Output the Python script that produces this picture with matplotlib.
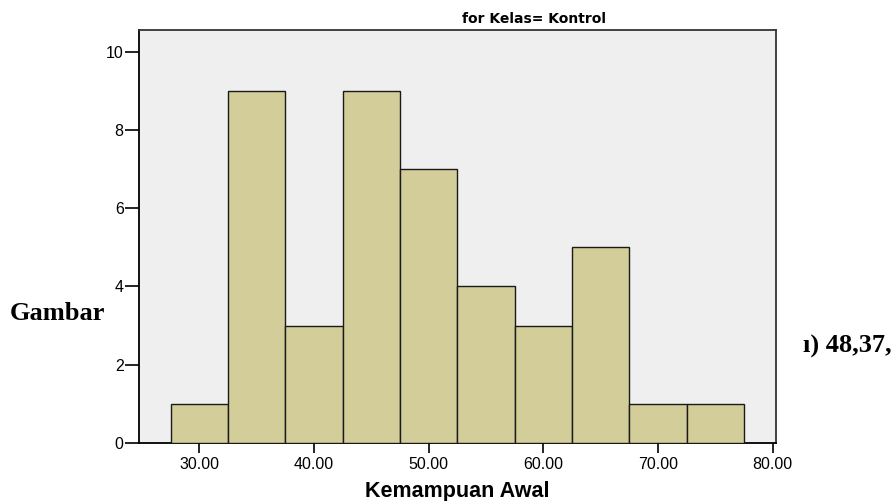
import matplotlib
matplotlib.use("Agg")
import matplotlib.pyplot as plt
import numpy as np

bin_edges = [27.5, 32.5, 37.5, 42.5, 47.5, 52.5, 57.5, 62.5, 67.5, 72.5, 77.5]
counts = [1, 9, 3, 9, 7, 4, 3, 5, 1, 1]
x_ticks = [30, 40, 50, 60, 70, 80]
x_tick_labels = ["30.00", "40.00", "50.00", "60.00", "70.00", "80.00"]
y_ticks = [0, 2, 4, 6, 8, 10]
title = "for Kelas= Kontrol"
x_label = "Kemampuan Awal"

plt.rcParams['font.family'] = ['Liberation Sans', 'DejaVu Sans']

W, H = 894, 501
fig = plt.figure(figsize=(W/100, H/100), dpi=100)
ax = fig.add_axes([139/W, 1-443/H, (776-139)/W, (443-30)/H])
ax.set_facecolor('#EFEFEF')

lefts = np.array(bin_edges[:-1])
widths = np.diff(bin_edges)
ax.bar(lefts, counts, width=widths, align='edge', color='#D3CE99',
       edgecolor='#1a1a1a', linewidth=1.0, zorder=3)

ax.set_xlim(24.74, 80.3)
ax.set_ylim(0, 10.55)
ax.set_xticks(x_ticks)
ax.set_xticklabels(x_tick_labels)
ax.set_yticks(y_ticks)
ax.tick_params(axis='x', direction='out', length=7, width=1.2, color='black',
               labelsize=11.5, pad=3)
ax.tick_params(axis='y', direction='out', length=10, width=1.2, color='black',
               labelsize=11.5, pad=1)
for s in ['left', 'bottom']:
    ax.spines[s].set_color('black')
    ax.spines[s].set_linewidth(1.3)
for s in ['top', 'right']:
    ax.spines[s].set_color('#333333')
    ax.spines[s].set_linewidth(1.3)

fig.text(457/W, 1-491/H, x_label, ha='center', va='center', fontsize=15.5,
         fontweight='bold')

fig.text(534/W, 1-19/H, title, ha='center', va='center', fontsize=10,
         fontweight='bold', family=['DejaVu Sans'])
fig.text(10/W, 1-314/H, "Gambar", ha='left', va='center', fontsize=19,
         fontweight='bold', family=['Liberation Serif', 'DejaVu Serif'])
fig.text(803/W, 1-346/H, "ı) 48,37,", ha='left', va='center', fontsize=19,
         fontweight='bold', family=['Liberation Serif', 'DejaVu Serif'])

fig.savefig("out.png", dpi=100)
